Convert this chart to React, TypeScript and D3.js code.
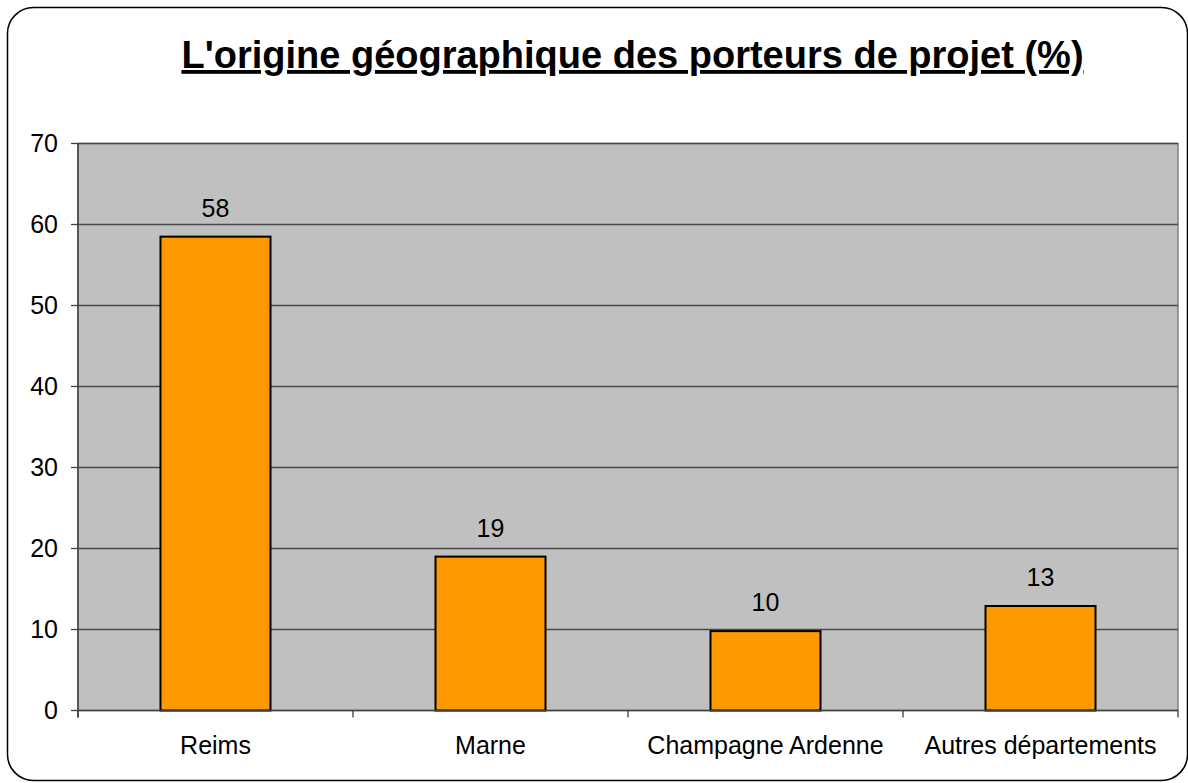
import React from 'react';
import * as d3 from 'd3';

const categories = ['Reims', 'Marne', 'Champagne Ardenne', 'Autres départements'];
const values = [58.5, 19, 9.8, 12.9];
const valueLabels = ['58', '19', '10', '13'];
const yTicks = [0, 10, 20, 30, 40, 50, 60, 70];
const title = "L'origine géographique des porteurs de projet (%)";

const W = 1188;
const H = 783;
const FONT = '"Liberation Sans", Arial, sans-serif';

export default function App() {
  const plot = { left: 78, right: 1178, top: 143.5, bottom: 710.5 };

  const x = d3.scaleBand<string>().domain(categories).range([plot.left, plot.right]).padding(0);
  const y = d3.scaleLinear().domain([0, 70]).range([plot.bottom, plot.top]);
  const barW = x.bandwidth() * 0.4;

  // boundaries between categories for the x ticks
  const xTickPos = categories.map(c => x(c) as number).concat([plot.right]);

  return (
    <svg width={W} height={H} style={{ position: 'absolute', left: 0, top: 0, background: '#fff' }}>
      <rect x={7.5} y={7.5} width={1180} height={773} rx={26} ry={26} fill="#fff" stroke="#000" strokeWidth={1.5} />

      <text x={632.5} y={68} textAnchor="middle" fontFamily={FONT} fontWeight="bold" fontSize={38}
        style={{ textDecoration: 'underline' }} fill="#000">
        {title}
      </text>

      {/* plot area */}
      <rect x={plot.left} y={plot.top} width={plot.right - plot.left} height={plot.bottom - plot.top}
        fill="#C0C0C0" stroke="#808080" strokeWidth={1.5} />

      {yTicks.filter(t => t > 0).map(t => (
        <line key={'g' + t} x1={plot.left} x2={plot.right} y1={y(t)} y2={y(t)} stroke="#4a4a4a" strokeWidth={1.3} />
      ))}

      {categories.map((c, i) => {
        const cx = (x(c) as number) + x.bandwidth() / 2;
        return (
          <g key={c}>
            <rect x={cx - barW / 2} y={y(values[i])} width={barW} height={y(0) - y(values[i])}
              fill="#FF9900" stroke="#000" strokeWidth={2} />
            <text x={cx} y={y(values[i]) - 20} textAnchor="middle" fontFamily={FONT} fontSize={25} fill="#000">
              {valueLabels[i]}
            </text>
            <text x={cx} y={754} textAnchor="middle" fontFamily={FONT} fontSize={25} fill="#000">
              {c}
            </text>
          </g>
        );
      })}

      {/* axes */}
      <line x1={plot.left} x2={plot.left} y1={plot.top} y2={plot.bottom + 7} stroke="#404040" strokeWidth={1.5} />
      <line x1={plot.left} x2={plot.right} y1={plot.bottom} y2={plot.bottom} stroke="#404040" strokeWidth={1.5} />
      {yTicks.map(t => (
        <g key={'t' + t}>
          <line x1={plot.left - 7} x2={plot.left} y1={y(t)} y2={y(t)} stroke="#404040" strokeWidth={1.3} />
          <text x={58} y={y(t) + 8.5} textAnchor="end" fontFamily={FONT} fontSize={25} fill="#000">{t}</text>
        </g>
      ))}
      {xTickPos.map((px, i) => (
        <line key={'x' + i} x1={px} x2={px} y1={plot.bottom} y2={plot.bottom + 7} stroke="#404040" strokeWidth={1.3} />
      ))}
    </svg>
  );
}
